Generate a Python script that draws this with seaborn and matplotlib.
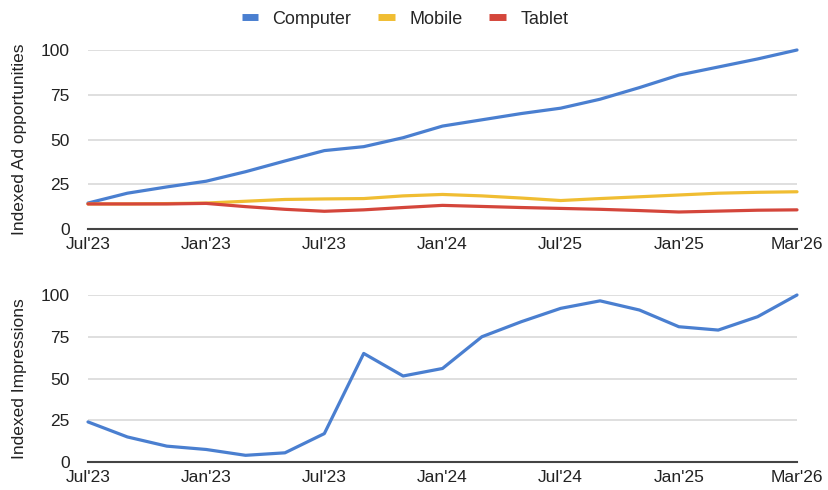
import matplotlib
matplotlib.use("Agg")
import matplotlib.pyplot as plt
import seaborn as sns
import pandas as pd
from matplotlib.lines import Line2D

# ---- data ----
tick_labels_top = ["Jul'23", "Jan'23", "Jul'23", "Jan'24", "Jul'25", "Jan'25", "Mar'26"]
tick_labels_bottom = ["Jul'23", "Jan'23", "Jul'23", "Jan'24", "Jul'24", "Jan'25", "Mar'26"]
period = list(range(19))
computer = [14.5, 20, 23.5, 26.7, 32, 38, 43.8, 46, 51, 57.5, 61, 64.5, 67.5, 72.5, 79, 86, 90.5, 95, 100]
mobile = [14, 14, 14.2, 14.5, 15.5, 16.5, 16.8, 17, 18.5, 19.3, 18.5, 17.3, 15.9, 17, 18, 19, 20, 20.5, 20.8]
tablet = [14, 14, 14, 14.3, 12.5, 11, 9.9, 10.7, 12, 13.2, 12.6, 12, 11.5, 11, 10.3, 9.5, 10, 10.5, 10.7]
impressions = [24, 15, 9.5, 7.5, 4, 5.5, 17, 65, 51.5, 56, 75, 84, 92, 96.5, 91, 81, 79, 87, 100]

series_names = ["Computer", "Mobile", "Tablet"]
colors = {"Computer": "#4a7fd0", "Mobile": "#f0bd32", "Tablet": "#d4463b"}

df_top = pd.DataFrame({
    "period": period * 3,
    "value": computer + mobile + tablet,
    "device": ["Computer"] * 19 + ["Mobile"] * 19 + ["Tablet"] * 19,
})
df_bot = pd.DataFrame({"period": period, "value": impressions})

sns.set_theme(style="white")
plt.rcParams["font.family"] = ["Liberation Sans", "DejaVu Sans"]

W, H = 829, 490
fig = plt.figure(figsize=(W / 100, H / 100), dpi=100)

def px_axes(left, right, top, bottom):
    return fig.add_axes([left / W, 1 - bottom / H, (right - left) / W, (bottom - top) / H])

ax1 = px_axes(88, 797, 50, 229)
ax2 = px_axes(88, 797, 295, 462)

sns.lineplot(data=df_top, x="period", y="value", hue="device", hue_order=series_names,
             palette=colors, ax=ax1, linewidth=2.3, legend=False, clip_on=False)
sns.lineplot(data=df_bot, x="period", y="value", color=colors["Computer"], ax=ax2,
             linewidth=2.3, legend=False, clip_on=False)

for ax, labels, ylab in [(ax1, tick_labels_top, "Indexed Ad opportunities"),
                         (ax2, tick_labels_bottom, "Indexed Impressions")]:
    ax.set_xlim(0, 18)
    ax.set_ylim(0, 100)
    ax.set_yticks([0, 25, 50, 75, 100])
    ax.set_xticks(range(0, 19, 3))
    ax.set_xticklabels(labels)
    ax.grid(axis="y", color="#d9d9d9", linewidth=1.2)
    ax.set_axisbelow(True)
    for s in ["top", "right", "left"]:
        ax.spines[s].set_visible(False)
    ax.spines["bottom"].set_color("#444444")
    ax.spines["bottom"].set_linewidth(1.5)
    ax.tick_params(axis="both", length=0, labelsize=12.5, colors="#222222")
    ax.tick_params(axis="y", pad=13)
    ax.tick_params(axis="x", pad=6)
    ax.set_xlabel("")
    ax.set_ylabel(ylab, fontsize=12.5, color="#222222", labelpad=10)

handles = [Line2D([0], [0], color=colors[n], linewidth=5, solid_capstyle="butt") for n in series_names]
fig.legend(handles, series_names, loc="center", bbox_to_anchor=(405 / W, 1 - 19 / H), ncol=3,
           frameon=False, handlelength=0.9, columnspacing=1.5, handletextpad=0.8,
           prop={"family": ["Liberation Sans", "DejaVu Sans"], "size": 13})

fig.text(4 / W, 1 + 4 / H, "Ad Opportunity and Impressions by Device", fontsize=15, fontweight="bold",
         ha="left", va="baseline", color="#222222")

fig.savefig("out.png", dpi=100)
